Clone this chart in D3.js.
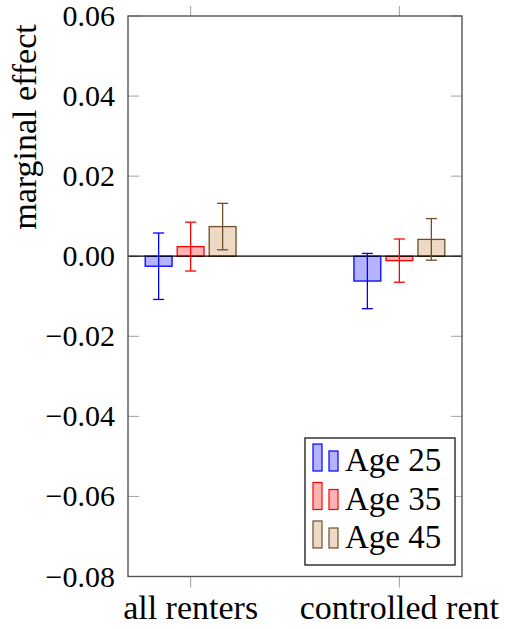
<!DOCTYPE html>
<html>
<head>
<meta charset="utf-8">
<script src="https://cdn.jsdelivr.net/npm/d3@7"></script>
</head>
<body style="margin:0">
<script>
// data
const categories = ["all renters", "controlled rent"];
const series = ["Age 25", "Age 35", "Age 45"];
const age25 = [-0.0025, -0.0062];
const age35 = [0.0024, -0.0011];
const age45 = [0.0074, 0.0042];
const err25 = [0.0083, 0.0069];
const err35 = [0.0061, 0.0054];
const err45 = [0.0058, 0.0052];
const yTicks = [0.06, 0.04, 0.02, 0.00, -0.02, -0.04, -0.06, -0.08];

const values = [age25, age35, age45];
const errors = [err25, err35, err45];
const strokes = ["#0000ff", "#ff0000", "#734d26"];
const fills = ["#b3b3ff", "#ffb3b3", "#ecd9c6"];

const width = 506;
const height = 629;
const margin = { top: 16, right: 44, bottom: 52.5, left: 128 };

const x = d3.scalePoint()
    .domain(categories)
    .range([margin.left, width - margin.right])
    .padding(0.3);

const x1 = d3.scaleBand()
    .domain(series)
    .range([-48, 48])
    .paddingInner(0.16)
    .paddingOuter(0.08);

const y = d3.scaleLinear()
    .domain([-0.08, 0.06])
    .range([height - margin.bottom, margin.top]);

const svg = d3.select("body").append("svg")
    .attr("width", width)
    .attr("height", height);

const fmt = d3.format(".2f");
const xl = margin.left, xr = width - margin.right;
const yt = margin.top, yb = height - margin.bottom;

// tick marks: y inside on both sides, x outside top and bottom
svg.selectAll("line.yl")
    .data(yTicks)
    .join("line")
        .attr("class", "yl")
        .attr("x1", xl).attr("x2", xl + 11)
        .attr("y1", d => y(d)).attr("y2", d => y(d))
        .attr("stroke", "#a0a0a0");

svg.selectAll("line.yr")
    .data(yTicks)
    .join("line")
        .attr("class", "yr")
        .attr("x1", xr - 11).attr("x2", xr)
        .attr("y1", d => y(d)).attr("y2", d => y(d))
        .attr("stroke", "#a0a0a0");

svg.selectAll("line.xb")
    .data(categories)
    .join("line")
        .attr("class", "xb")
        .attr("x1", d => x(d)).attr("x2", d => x(d))
        .attr("y1", yb).attr("y2", yb + 11)
        .attr("stroke", "#a0a0a0");

svg.selectAll("line.xt")
    .data(categories)
    .join("line")
        .attr("class", "xt")
        .attr("x1", d => x(d)).attr("x2", d => x(d))
        .attr("y1", yt - 10).attr("y2", yt)
        .attr("stroke", "#a0a0a0");

// bars
svg.selectAll("rect.bar")
    .data(series.flatMap((s, si) => categories.map((c, ci) => ({ s, si, c, v: values[si][ci] }))))
    .join("rect")
        .attr("class", "bar")
        .attr("x", d => x(d.c) + x1(d.s))
        .attr("y", d => y(Math.max(0, d.v)))
        .attr("width", x1.bandwidth())
        .attr("height", d => Math.abs(y(d.v) - y(0)))
        .attr("fill", d => fills[d.si])
        .attr("stroke", d => strokes[d.si])
        .attr("stroke-width", 1.3);

// zero line
svg.append("line")
    .attr("x1", xl)
    .attr("x2", xr)
    .attr("y1", y(0))
    .attr("y2", y(0))
    .attr("stroke", "#000")
    .attr("stroke-width", 1.3);

// error bars
const errs = svg.append("g")
    .selectAll("g")
    .data(series.flatMap((s, si) => categories.map((c, ci) => ({
        s, si, c, v: values[si][ci], e: errors[si][ci]
    }))))
    .join("g")
        .attr("stroke", d => strokes[d.si])
        .attr("stroke-width", 1.3);

const cx = d => x(d.c) + x1(d.s) + x1.bandwidth() / 2;

errs.append("line")
    .attr("x1", cx).attr("x2", cx)
    .attr("y1", d => y(d.v + d.e))
    .attr("y2", d => y(d.v - d.e));

errs.append("line")
    .attr("x1", d => cx(d) - 5.5).attr("x2", d => cx(d) + 5.5)
    .attr("y1", d => y(d.v + d.e)).attr("y2", d => y(d.v + d.e));

errs.append("line")
    .attr("x1", d => cx(d) - 5.5).attr("x2", d => cx(d) + 5.5)
    .attr("y1", d => y(d.v - d.e)).attr("y2", d => y(d.v - d.e));

// frame
svg.append("rect")
    .attr("x", xl)
    .attr("y", yt)
    .attr("width", xr - xl)
    .attr("height", yb - yt)
    .attr("fill", "none")
    .attr("stroke", "#555")
    .attr("stroke-width", 1.4);

// legend box and swatches
const lx = 305, ly = 438, row = 38.5;
svg.append("rect")
    .attr("x", lx).attr("y", ly)
    .attr("width", 150)
    .attr("height", 127)
    .attr("fill", "#fff")
    .attr("stroke", "#000")
    .attr("stroke-width", 1.2);

svg.selectAll("rect.sw1")
    .data(series)
    .join("rect")
        .attr("class", "sw1")
        .attr("x", lx + 8).attr("y", (d, i) => ly + 6 + i * row)
        .attr("width", 9).attr("height", 27)
        .attr("fill", (d, i) => fills[i])
        .attr("stroke", (d, i) => strokes[i])
        .attr("stroke-width", 1.2);

svg.selectAll("rect.sw2")
    .data(series)
    .join("rect")
        .attr("class", "sw2")
        .attr("x", lx + 24).attr("y", (d, i) => ly + 13 + i * row)
        .attr("width", 9).attr("height", 20)
        .attr("fill", (d, i) => fills[i])
        .attr("stroke", (d, i) => strokes[i])
        .attr("stroke-width", 1.2);

// texts
svg.selectAll("text.ytick")
    .data(yTicks)
    .join("text")
        .attr("class", "ytick")
        .attr("x", xl - 13)
        .attr("y", d => y(d) + 10)
        .attr("text-anchor", "end")
        .style("font-family", '"Liberation Serif"')
        .style("font-size", "30px")
        .text(d => fmt(d));

svg.selectAll("text.cat")
    .data(categories)
    .join("text")
        .attr("class", "cat")
        .attr("x", d => x(d))
        .attr("y", 619)
        .attr("text-anchor", "middle")
        .style("font-family", '"Liberation Serif"')
        .style("font-size", "34px")
        .text(d => d);

svg.selectAll("text.leg")
    .data(series)
    .join("text")
        .attr("class", "leg")
        .attr("x", lx + 40)
        .attr("y", (d, i) => ly + 33 + i * row)
        .style("font-family", '"Liberation Serif"')
        .style("font-size", "33px")
        .text(d => d);

svg.append("text")
    .attr("transform", "translate(36,127) rotate(-90)")
    .attr("text-anchor", "middle")
    .style("font-family", '"Liberation Serif"')
    .style("font-size", "34px")
    .text("marginal effect");
</script>
</body>
</html>
